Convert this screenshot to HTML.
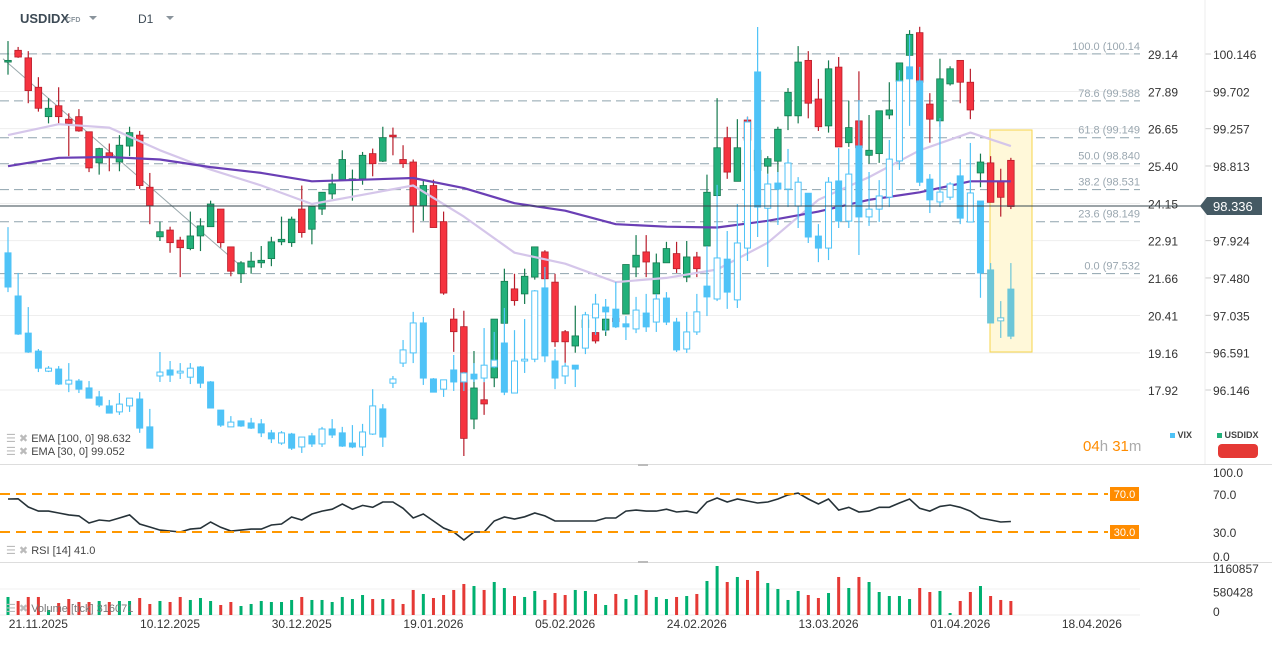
<!DOCTYPE html>
<html><head><meta charset="utf-8">
<style>
html,body{margin:0;padding:0;background:#fff;width:1272px;height:647px;overflow:hidden;font-family:"Liberation Sans",sans-serif;}
svg{display:block}
</style></head>
<body>
<svg id="chart" width="1272" height="647" viewBox="0 0 1272 647" xmlns="http://www.w3.org/2000/svg">
<defs><clipPath id="plotClip"><rect x="0" y="20" width="1140" height="442"/></clipPath>
<clipPath id="subClip"><rect x="0" y="464" width="1140" height="152"/></clipPath></defs>
<g id="header">
<text x="20" y="23" font-size="13" font-weight="bold" fill="#3d4a55">USDIDX</text>
<text x="66" y="22" font-size="7" font-weight="bold" fill="#8a949c">CFD</text>
<path d="M89 16 L97 16 L93 20 Z" fill="#8a949c"/>
<text x="138" y="23" font-size="12" fill="#3d4a55">D1</text>
<path d="M166 16 L174 16 L170 20 Z" fill="#8a949c"/>
</g>
<g id="grid"></g>
<g id="fib"></g>
<rect x="990" y="130" width="42" height="222" fill="#fff8d9" stroke="#f7d54a" stroke-width="1"/>
<g id="plot" clip-path="url(#plotClip)"></g>
<g id="axes"></g>
<g id="sub" clip-path="url(#subClip)"></g>
<g id="labels"></g>
</svg>
<script>
// ---------- DATA ----------
const usdOpen=[100.05,100.19,100.10,99.75,99.40,99.53,99.37,99.40,99.22,98.85,98.97,98.86,99.05,99.18,98.56,97.97,98.05,97.93,97.83,97.98,98.09,98.30,97.85,97.53,97.61,97.66,97.71,97.91,97.90,98.30,98.06,98.30,98.48,98.65,98.64,98.66,98.96,98.87,99.18,98.89,98.86,98.34,98.58,98.15,96.99,96.90,95.80,96.03,96.29,96.94,97.35,97.29,97.49,97.79,97.43,96.84,96.67,96.89,96.83,96.86,97.00,97.05,97.61,97.79,97.29,97.66,97.77,97.49,97.73,97.86,98.46,99.15,98.63,99.36,98.76,98.81,98.87,99.41,99.41,100.07,99.61,99.29,99.99,99.09,99.35,98.94,98.96,99.42,99.82,100.13,100.40,99.55,99.35,99.79,100.07,99.81,98.73,98.85,98.63,98.88];
const usdHigh=[100.30,100.23,100.18,99.87,99.62,99.75,99.44,99.49,99.22,99.03,99.08,99.18,99.28,99.23,98.73,98.15,98.09,97.97,98.27,98.19,98.40,98.30,97.85,97.68,97.79,97.86,97.97,98.21,98.21,98.58,98.34,98.50,98.72,99.00,98.77,98.98,99.02,99.28,99.27,99.06,98.89,98.65,98.65,98.27,97.12,97.09,96.61,96.24,96.99,97.59,97.53,97.59,97.85,97.81,97.53,96.86,97.15,97.00,96.83,97.00,97.04,97.64,97.99,97.99,97.77,97.91,97.91,97.92,97.79,98.71,99.62,99.28,99.37,99.40,99.10,98.93,99.28,99.74,100.24,100.18,99.85,100.07,100.11,99.59,99.94,99.42,99.47,99.81,100.04,100.43,100.47,99.68,100.09,100.00,100.07,99.97,98.96,98.93,98.78,98.91];
const usdLow=[99.90,100.10,99.56,99.46,99.32,99.32,98.93,99.22,98.74,98.71,98.75,98.75,98.93,98.54,98.12,97.92,97.78,97.49,97.81,97.80,98.09,97.84,97.50,97.42,97.53,97.60,97.62,97.87,97.85,97.96,97.88,98.23,98.42,98.65,98.40,98.59,98.69,98.86,98.94,98.79,98.02,98.16,98.08,97.28,96.60,95.36,95.68,95.85,96.18,96.94,97.15,97.17,97.46,97.46,96.66,96.47,96.59,96.80,96.70,96.79,96.91,97.05,97.49,97.49,97.29,97.66,97.54,97.43,97.49,97.86,98.46,98.66,98.63,99.00,98.70,98.72,98.74,99.24,99.32,99.38,99.23,99.21,99.04,99.04,99.03,98.84,98.85,99.37,99.72,100.13,99.81,99.09,99.28,99.77,99.56,99.37,98.56,98.38,98.21,98.30];
const usdClose=[100.07,100.11,99.71,99.50,99.50,99.40,99.32,99.23,98.79,99.02,98.92,99.06,99.21,98.58,98.34,98.03,97.90,97.84,97.98,98.10,98.36,97.90,97.56,97.66,97.68,97.69,97.91,97.94,98.18,98.02,98.33,98.50,98.60,98.89,98.66,98.94,98.84,99.15,99.16,98.84,98.34,98.58,98.08,97.30,96.84,95.57,96.17,95.98,96.99,97.44,97.21,97.50,97.85,97.47,96.72,96.72,96.79,96.98,96.73,96.99,96.96,97.64,97.75,97.67,97.66,97.83,97.59,97.73,97.59,98.50,99.03,98.74,99.03,99.12,99.00,98.90,99.25,99.69,100.05,99.56,99.28,99.97,99.04,99.27,99.03,99.00,99.47,99.48,100.04,100.38,99.81,99.37,99.85,99.97,99.81,99.48,98.86,98.38,98.44,98.33];
const vixOpen=[22.50,21.06,19.82,19.22,18.55,18.62,18.12,18.22,17.99,17.69,17.39,17.19,17.39,17.62,16.69,18.39,18.59,18.49,18.35,18.69,18.19,17.25,16.69,16.89,16.82,16.79,16.49,16.15,16.45,16.02,16.39,16.12,16.62,16.49,16.15,16.02,16.45,17.29,18.15,18.82,19.16,20.16,18.29,17.95,18.59,18.19,18.45,18.32,18.69,19.49,17.82,18.89,18.95,21.33,18.89,18.39,18.75,19.32,20.33,20.69,20.62,20.13,19.96,20.49,20.19,20.99,20.19,19.29,19.86,21.39,20.96,22.29,20.93,22.66,28.54,23.99,24.83,24.63,24.06,24.49,23.06,22.66,24.90,23.56,26.07,23.70,23.96,24.36,25.57,28.71,28.24,24.96,24.20,24.36,25.07,23.53,24.23,21.93,20.23,19.72];
const vixHigh=[23.36,21.83,20.69,19.29,18.72,18.72,18.82,18.29,18.22,17.89,17.59,17.82,17.65,17.85,17.29,19.19,18.89,18.82,18.82,18.72,18.22,17.25,17.05,16.89,16.99,16.95,16.59,16.55,16.49,16.35,16.49,16.69,16.95,16.69,16.75,16.79,17.95,17.45,18.39,19.59,20.53,20.36,18.32,18.26,19.09,18.52,18.82,19.99,19.86,20.66,19.92,20.29,21.26,22.03,19.29,18.82,18.75,20.53,21.13,20.96,21.53,20.39,21.03,21.13,21.13,21.19,20.33,20.53,21.13,22.73,24.77,23.23,24.13,27.04,30.04,25.13,25.20,25.97,25.03,24.49,23.46,25.03,26.00,25.97,27.60,25.20,24.93,26.27,28.60,29.77,28.71,25.13,27.00,24.86,25.63,26.17,24.23,22.16,20.89,22.16];
const vixLow=[21.19,19.76,19.16,18.52,18.52,18.09,17.85,17.82,17.65,17.35,17.15,17.09,17.19,16.49,15.98,18.19,18.19,18.29,18.12,17.99,17.32,16.69,16.69,16.69,16.62,16.35,16.15,16.09,15.92,15.82,16.02,16.02,16.32,16.02,15.98,15.72,16.42,16.02,17.99,18.69,18.82,18.09,17.85,17.69,17.89,17.89,18.19,18.19,18.65,17.75,17.82,18.49,18.85,18.85,17.95,18.12,18.02,19.12,19.76,19.86,19.99,19.59,19.82,19.86,19.86,20.09,19.19,19.16,19.76,20.39,20.89,20.63,20.66,22.23,23.03,22.03,23.43,24.03,23.33,22.83,22.19,22.26,23.33,23.33,22.43,23.40,23.53,24.03,25.27,26.74,24.73,23.83,24.03,24.27,23.46,23.53,21.00,20.16,19.66,19.62];
const vixClose=[21.36,19.79,19.19,18.65,18.65,18.12,18.25,17.95,17.65,17.42,17.15,17.45,17.65,16.65,15.98,18.52,18.42,18.55,18.65,18.15,17.32,16.75,16.85,16.72,16.65,16.49,16.29,16.49,15.98,16.35,16.12,16.62,16.42,16.05,16.02,16.52,17.39,16.35,18.29,19.26,20.16,18.32,17.85,18.26,18.19,18.49,18.29,18.75,18.92,17.85,18.89,18.95,21.23,19.06,18.32,18.72,18.62,20.43,20.79,20.53,20.03,20.03,20.59,20.03,20.96,20.19,19.26,19.86,20.53,21.03,22.33,21.19,22.83,26.87,24.03,24.80,24.63,25.50,24.86,23.03,22.66,24.86,23.56,25.13,23.70,23.96,24.40,25.63,28.24,28.31,24.86,24.27,24.53,24.80,23.66,24.50,21.83,20.16,20.33,21.29];
const ema100Idx=[0,5,10,15,20,25,30,35,40,45,50,55,60,65,70,75,80,85,90,95,99];
const ema100Val=[98.81,98.91,98.92,98.89,98.80,98.73,98.63,98.65,98.67,98.55,98.37,98.28,98.12,98.09,98.08,98.16,98.27,98.41,98.50,98.63,98.63];
const ema30Val=[99.18,99.31,99.27,99.00,98.77,98.58,98.36,98.47,98.58,98.21,97.78,97.65,97.43,97.48,97.58,97.90,98.41,98.68,99.00,99.21,99.05];
const fibLevels=[100.0,78.6,61.8,50.0,38.2,23.6,0.0];
const fibPrices=[100.148,99.588,99.149,98.840,98.531,98.149,97.532];
const vixTicks=[29.14,27.89,26.65,25.40,24.15,22.91,21.66,20.41,19.16,17.92];
const usdTicks=[100.146,99.702,99.257,98.813,97.924,97.480,97.035,96.591,96.146];
const lastPrice=98.336;
const rsiVals=[64.7,65,56.3,52,52,50,48,47,39.5,42.6,41.6,44.7,48,38.4,35.3,32,31,30,33,34,40.5,35,31,32,33,33,37.4,38.4,45.8,42.6,49,52,54,59.5,54,58,56,61.6,61.6,55,44.7,49,41.6,34.2,30,21.6,30,30,41.6,45.8,43.7,46,50,47,41.6,41.6,41.6,41.6,41.6,44.7,44.7,52,53,52,52,54,51,52,50,61.6,65.8,61.6,64.7,62.6,60.5,61.6,64.7,69,71,64.7,59.5,64.7,53,56,51,52,56,56,60.5,64.7,55,52,57,58.4,56,52,44.7,42.6,40.5,41.0];
const rsiTicks=[100,70,30,0];
const volK=[445,346,445,445,124,296,395,321,321,346,321,346,346,420,272,346,321,445,371,420,346,247,321,222,272,346,321,321,371,445,371,371,321,445,395,494,395,395,395,272,618,519,420,494,618,766,716,618,815,667,469,445,593,371,543,494,618,593,519,247,519,395,494,618,445,395,445,469,519,840,1210,815,939,865,1087,790,642,371,593,494,420,543,939,667,939,815,568,469,469,395,667,568,593,49,346,568,716,469,371,346];
const volUp=[1,0,0,0,1,0,0,0,0,1,0,1,1,0,0,1,0,0,1,1,1,0,0,1,1,1,1,1,1,0,1,1,1,1,1,1,0,1,0,0,0,1,0,0,0,0,1,0,1,1,0,1,1,0,0,0,1,1,0,1,0,1,1,0,1,1,0,1,0,1,1,0,1,0,0,1,1,1,1,0,0,1,0,1,0,1,1,1,1,1,0,0,1,1,0,0,1,0,0,0];
const volTicks=[1160857,580428,0];
const dateLabels=["21.11.2025","10.12.2025","30.12.2025","19.01.2026","05.02.2026","24.02.2026","13.03.2026","01.04.2026","18.04.2026"];
const dateIdx=[3,16,29,42,55,68,81,94,107];

// ---------- SCALES ----------
const NS="http://www.w3.org/2000/svg";
const xOf=i=>8+i*10.13;
const yUSD=p=>54+(100.146-p)*84;
const yVIX=v=>54+(29.14-v)*29.95;
const yRSI=r=>560.5-r*0.95;
const VOLMAX=1160857;
const yVol=k=>615-(k*1000)/VOLMAX*47;
function mk(tag,attrs,parent){const e=document.createElementNS(NS,tag);for(const k in attrs)e.setAttribute(k,attrs[k]);parent.appendChild(e);return e;}
const grid=document.getElementById('grid'),fib=document.getElementById('fib'),plot=document.getElementById('plot'),axes=document.getElementById('axes'),sub=document.getElementById('sub'),labels=document.getElementById('labels');

vixTicks.forEach((v,k)=>{const y=yVIX(v);
 const g=mk('line',{x1:0,x2:1140,y1:y,y2:y,stroke:'#eeeeee','stroke-width':1},grid);
 
 const t=mk('text',{x:1148,y:y+5,'font-size':12,fill:'#333'},axes);t.textContent=v.toFixed(2);
 
});
usdTicks.forEach(p=>{const y=yUSD(p);
 mk('line',{x1:1205,x2:1211,y1:y,y2:y,stroke:'#ccc'},axes);
 const t=mk('text',{x:1213,y:y+5,'font-size':12,fill:'#333'},axes);t.textContent=p.toFixed(3);
 
});
mk('line',{x1:1205,x2:1205,y1:0,y2:464,stroke:'#eee'},axes);
mk('line',{x1:0,x2:1272,y1:464.5,y2:464.5,stroke:'#ddd'},axes);
mk('line',{x1:0,x2:1272,y1:562.5,y2:562.5,stroke:'#ddd'},axes);
mk('rect',{x:638,y:464,width:10,height:2,fill:'#bbb'},axes);
mk('rect',{x:638,y:561,width:10,height:2,fill:'#bbb'},axes);

fibPrices.forEach((p,k)=>{const y=yUSD(p);
 const l=mk('line',{x1:0,x2:1140,y1:y,y2:y,stroke:'#8fa3ad','stroke-width':1,'stroke-dasharray':'9,5'},fib);
 
 const t=mk('text',{x:1140,y:y-4,'font-size':11,fill:'#9aa7b0','text-anchor':'end'},fib);
 t.textContent=fibLevels[k].toFixed(1)+' ('+p.toFixed(3).slice(0,6);
 
});
const tl=mk('line',{x1:xOf(0)-5,y1:yUSD(100.09),x2:xOf(23),y2:yUSD(97.62),stroke:'#9aa9ad','stroke-width':1},plot);


for(let i=0;i<usdOpen.length;i++){
 const up=usdClose[i]>=usdOpen[i];const x=xOf(i);
 const col=up?'#22b07a':'#f5333f',st=up?'#157a4f':'#b81d2b';
 const w=mk('line',{x1:x,x2:x,y1:yUSD(usdHigh[i]),y2:yUSD(usdLow[i]),stroke:st,'stroke-width':1.2},plot);
 
 const t=yUSD(Math.max(usdOpen[i],usdClose[i])),b=yUSD(Math.min(usdOpen[i],usdClose[i]));
 const r=mk('rect',{x:x-3.3,y:t,width:6.6,height:Math.max(1.5,b-t),fill:col,stroke:st,'stroke-width':0.8},plot);
 
}
function emaPath(vals){let d='';ema100Idx.forEach((ix,k)=>{const x=xOf(ix),y=yUSD(vals[k]);d+=(k?' L':'M')+x.toFixed(1)+' '+y.toFixed(1);});return d;}
const e30=mk('path',{d:emaPath(ema30Val),fill:'none',stroke:'#d5c6ea','stroke-width':2.2,'stroke-linejoin':'round'},plot);

const e100=mk('path',{d:emaPath(ema100Val),fill:'none',stroke:'#6a3fb5','stroke-width':2.2,'stroke-linejoin':'round'},plot);


for(let i=0;i<vixOpen.length;i++){
 const up=vixClose[i]>=vixOpen[i];const x=xOf(i);
 const hl=i>=97?'#6cc6d8':'#4fc3f7';
 const w=mk('line',{x1:x,x2:x,y1:yVIX(vixHigh[i]),y2:yVIX(vixLow[i]),stroke:hl,'stroke-width':1.2},plot);
 
 const t=yVIX(Math.max(vixOpen[i],vixClose[i])),b=yVIX(Math.min(vixOpen[i],vixClose[i]));
 const r=mk('rect',{x:x-3,y:t,width:6,height:Math.max(1.5,b-t),fill:(up&&i<99)?'#fff':hl,stroke:hl,'stroke-width':1},plot);
 
}
const cp=mk('line',{x1:0,x2:1205,y1:yUSD(lastPrice),y2:yUSD(lastPrice),stroke:'#37474f','stroke-width':1},axes);

const yl=yUSD(lastPrice);
const cpb=mk('path',{d:`M1200 ${yl} L1207 ${yl-9} L1262 ${yl-9} L1262 ${yl+9} L1207 ${yl+9} Z`,fill:'#455a64'},axes);

const cpt=mk('text',{x:1213,y:yl+5,'font-size':13,fill:'#fff'},axes);cpt.textContent=lastPrice.toFixed(3);

[70,30].forEach(v=>{const y=yRSI(v);
 const l=mk('line',{x1:0,x2:1108,y1:y,y2:y,stroke:'#ff9800','stroke-width':2,'stroke-dasharray':'10,6'},labels);
 
 mk('rect',{x:1110,y:y-7,width:29,height:14,fill:'#ff8c00'},labels);
 const t=mk('text',{x:1124.5,y:y+4,'font-size':11,fill:'#fff','text-anchor':'middle'},labels);t.textContent=v.toFixed(1);
});
let rd='';rsiVals.forEach((r,i)=>{rd+=(i?' L':'M')+xOf(i).toFixed(1)+' '+yRSI(r).toFixed(1);});
const rl=mk('path',{d:rd,fill:'none',stroke:'#263238','stroke-width':1.6},sub);

rsiTicks.forEach(v=>{const c=Math.min(556,Math.max(472,yRSI(v)));const t=mk('text',{x:1213,y:c+5,'font-size':12,fill:'#333'},axes);t.textContent=v.toFixed(1);
 });

mk('line',{x1:0,x2:1140,y1:589,y2:589,stroke:'#f0f0f0'},sub);
mk('line',{x1:0,x2:1140,y1:615,y2:615,stroke:'#eee'},sub);
volK.forEach((k,i)=>{const y=yVol(k);
 const b=mk('rect',{x:xOf(i)-1.5,y:y,width:3,height:615-y,fill:volUp[i]?'#00b070':'#e53935'},sub);
 
});
volTicks.forEach(v=>{const c=Math.min(611,yVol(v/1000));const t=mk('text',{x:1213,y:c+5,'font-size':12,fill:'#333'},axes);t.textContent=String(v);
 });

dateLabels.forEach((d,k)=>{const t=mk('text',{x:xOf(dateIdx[k]),y:628,'font-size':12,fill:'#333','text-anchor':'middle'},axes);t.textContent=d;
 });
</script>
<div style="position:absolute;left:6px;top:433px;font-size:11px;color:#444;line-height:13px">
<div><span style="color:#bbb">&#9776; &#10006;</span> EMA [100, 0] 98.632</div>
<div><span style="color:#bbb">&#9776; &#10006;</span> EMA [30, 0] 99.052</div>
</div>
<div style="position:absolute;left:6px;top:544px;font-size:11px;color:#444"><span style="color:#bbb">&#9776; &#10006;</span> RSI [14] 41.0</div>
<div style="position:absolute;left:6px;top:602px;font-size:11px;color:#777"><span style="color:#bbb">&#9776; &#10006;</span> Volume [tick] 316071</div>
<div style="position:absolute;left:1083px;top:438px;font-size:15px;color:#aaa"><span style="color:#ff8c00">04</span>h <span style="color:#ff8c00">31</span>m</div>
<div style="position:absolute;left:1170px;top:430px;font-size:9px;font-weight:bold;color:#444"><span style="display:inline-block;width:5px;height:5px;background:#4fc3f7"></span> VIX</div>
<div style="position:absolute;left:1217px;top:430px;font-size:9px;font-weight:bold;color:#444"><span style="display:inline-block;width:5px;height:5px;background:#22b07a"></span> USDIDX</div>
<div style="position:absolute;left:1218px;top:444px;width:40px;height:14px;border-radius:4px;background:#e53935"></div>
</body></html>
